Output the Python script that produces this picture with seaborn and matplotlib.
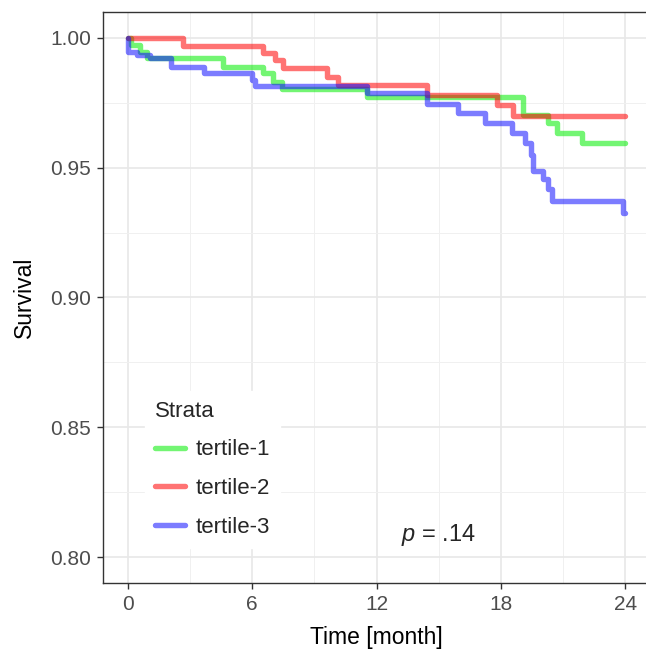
import pandas as pd
import matplotlib
matplotlib.use('Agg')
import matplotlib.pyplot as plt
from matplotlib.ticker import MultipleLocator
import seaborn as sns

# Kaplan-Meier step values (time in months, survival)
t1_time = [0, 0.15, 0.58, 0.9, 4.6, 6.53, 7.02, 7.42, 11.53, 19.09, 20.30, 20.70, 21.91, 24]
t1_surv = [1.0, 0.9973, 0.9947, 0.9922, 0.989, 0.9864, 0.9832, 0.9804, 0.9772, 0.9704, 0.9672, 0.9633, 0.9595, 0.9595]

t2_time = [0, 2.64, 6.53, 7.10, 7.50, 9.59, 10.15, 14.42, 17.80, 18.60, 24]
t2_surv = [1.0, 0.997, 0.9941, 0.9915, 0.9886, 0.9851, 0.9819, 0.978, 0.9742, 0.970, 0.970]

t3_time = [0, 0.02, 0.45, 1.06, 2.06, 3.67, 5.97, 6.13, 11.53, 14.42, 15.95, 17.24, 18.53,
           19.17, 19.45, 19.57, 20.05, 20.30, 20.46, 23.92, 24]
t3_surv = [1.0, 0.9947, 0.9935, 0.9922, 0.989, 0.9864, 0.9838, 0.9813, 0.9787, 0.9746, 0.971, 0.9672, 0.9633,
           0.9597, 0.955, 0.9486, 0.9455, 0.9417, 0.937, 0.9326, 0.9326]

strata = ['tertile-1', 'tertile-2', 'tertile-3']
colors = ['#00ee00', '#ff0000', '#1010ff']
x_ticks = [0, 6, 12, 18, 24]
y_ticks = [0.80, 0.85, 0.90, 0.95, 1.00]
p_text = '$p$ = .14'

frames = []
for name, tt, ss in zip(strata, [t1_time, t2_time, t3_time], [t1_surv, t2_surv, t3_surv]):
    frames.append(pd.DataFrame({'time': tt, 'surv': ss, 'strata': name}))
df = pd.concat(frames, ignore_index=True)

sns.set_style('white')
plt.rcParams['font.family'] = ['Liberation Sans', 'DejaVu Sans']
plt.rcParams['mathtext.fontset'] = 'custom'
plt.rcParams['mathtext.it'] = 'Liberation Sans:italic'

fig = plt.figure(figsize=(6.46, 6.52), dpi=100)
ax = fig.add_axes([103 / 646, 69 / 652, 547 / 646, 571 / 652])

sns.lineplot(data=df, x='time', y='surv', hue='strata', hue_order=strata,
             palette=dict(zip(strata, colors)), drawstyle='steps-post',
             estimator=None, sort=False, linewidth=3.9, alpha=0.55, ax=ax)

ax.set_xlim(-1.2, 25.2)
ax.set_ylim(0.79, 1.01)
ax.set_xticks(x_ticks)
ax.set_yticks(y_ticks)
ax.set_yticklabels([f'{v:.2f}' for v in y_ticks])
ax.xaxis.set_minor_locator(MultipleLocator(3))
ax.yaxis.set_minor_locator(MultipleLocator(0.025))
ax.grid(which='major', color='#e8e8e8', linewidth=1.2)
ax.grid(which='minor', color='#f0f0f0', linewidth=0.7)
ax.set_axisbelow(True)
for s in ax.spines.values():
    s.set_color('#333333')
    s.set_linewidth(1.0)
ax.tick_params(which='major', direction='out', length=4.5, width=1.0, color='#333333',
               labelsize=15, labelcolor='#4d4d4d', pad=4,
               bottom=True, left=True)
ax.tick_params(which='minor', length=0)

ax.set_xlabel('Time [month]', fontsize=16.5, color='black', labelpad=9)
ax.set_ylabel('Survival', fontsize=16.5, color='black', labelpad=10)

ax.text(15, 0.8085, p_text, fontsize=17, ha='center', va='center')

handles, labels = ax.get_legend_handles_labels()
leg = ax.legend(handles, labels, title='Strata', loc='lower left',
                bbox_to_anchor=(0.056, 0.042), fontsize=16, title_fontsize=16,
                frameon=True, facecolor='white', edgecolor='white', framealpha=1,
                fancybox=False, handlelength=1.35, handletextpad=0.5,
                labelspacing=0.8, borderpad=0.45, alignment='left')
for h in leg.get_lines():
    h.set_linewidth(3.9)
    h.set_alpha(0.55)

fig.savefig('out.png', dpi=100)
